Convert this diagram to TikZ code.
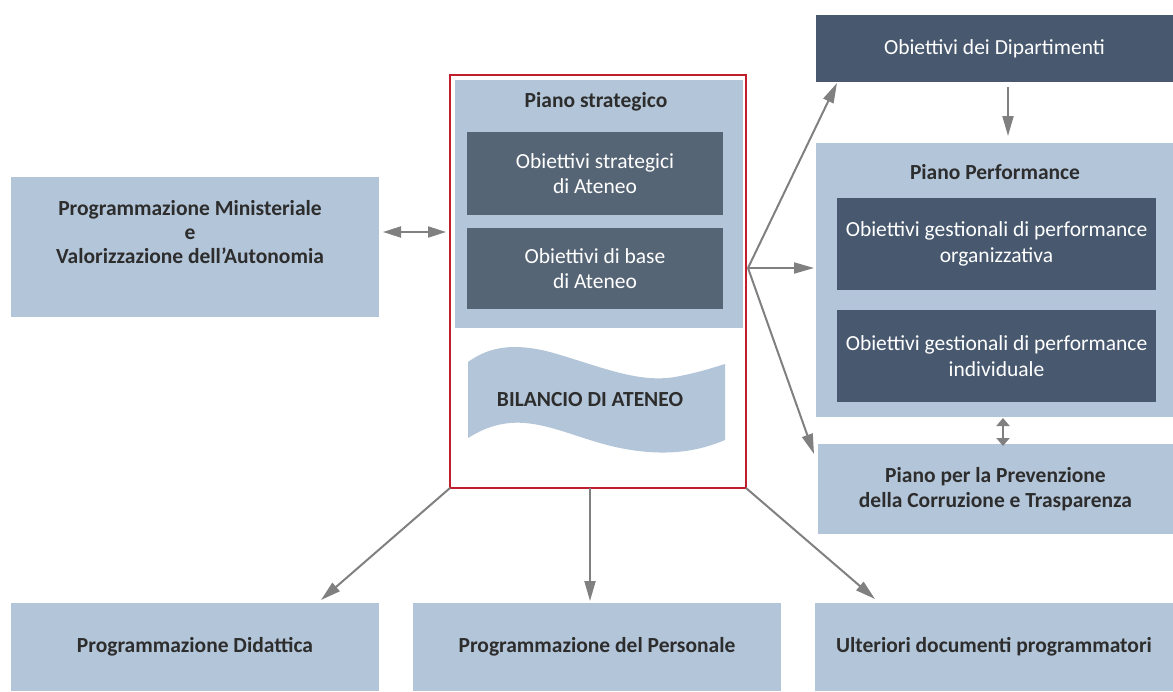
\documentclass[tikz,border=0pt]{standalone}
\usepackage{fontspec}
\setmainfont{Carlito}
\usetikzlibrary{arrows.meta, positioning, calc}
\definecolor{chiaro}{RGB}{179,197,216}
\definecolor{scuro}{RGB}{86,101,117}
\definecolor{scurodx}{RGB}{72,89,111}
\definecolor{testo}{RGB}{45,45,45}
\definecolor{freccia}{RGB}{128,128,128}
\definecolor{cornice}{RGB}{192,30,45}

\begin{document}
\begin{tikzpicture}[x=1pt, y=-1pt,
    box/.style={anchor=north west, inner sep=0pt, outer sep=0pt},
    chiarobox/.style={box, fill=chiaro, text=testo, align=center, font=\fontsize{21.5}{24.5}\selectfont\bfseries},
    scurobox/.style={box, fill=scuro, text=white, align=center, font=\fontsize{21.5}{25.5}\selectfont},
    titolo/.style={text=testo, align=center, inner sep=0pt, font=\fontsize{21.5}{24}\selectfont\bfseries},
    frec/.style={freccia, line width=2pt, -{Triangle[length=20pt, width=11pt]}},
    dfrec/.style={freccia, line width=2pt, {Triangle[length=18pt, width=11pt]}-{Triangle[length=18pt, width=11pt]}},
    pfrec/.style={freccia, line width=2pt, {Triangle[length=8pt, width=13pt]}-{Triangle[length=8pt, width=13pt]}}]
    \useasboundingbox (0,0) rectangle (1173,691);
    % Programmazione ministeriale
    \node[chiarobox, minimum width=368pt, minimum height=140pt] (minist) at (11,177) {};
    \node[titolo] (ministtxt) at (190,232) {Programmazione Ministeriale\\e\\Valorizzazione dell'Autonomia};
    % Piano strategico
    \node[box, draw=cornice, line width=1.2pt, minimum width=296pt, minimum height=413pt] (frame) at (450,75) {};
    \node[chiarobox, minimum width=288pt, minimum height=248pt] (strat) at (455,80) {};
    \node[titolo] (strattit) at (596,102) {Piano strategico};
    \node[scurobox, minimum width=256pt, minimum height=83pt] (ostrat) at (467,132) {Obiettivi strategici\\di Ateneo};
    \node[scurobox, minimum width=256pt, minimum height=81pt] (obase) at (467,228) {Obiettivi di base\\di Ateneo};
    % Bilancio (onda)
    \fill[chiaro] (468,362) .. controls (490,346) and (515,343) .. (550,352)
        .. controls (600,366) and (640,385) .. (680,376)
        .. controls (700,372) and (712,368) .. (725,364) -- (725,440)
        .. controls (690,455) and (655,455) .. (620,448)
        .. controls (580,440) and (545,420) .. (510,423)
        .. controls (490,425) and (478,432) .. (468,438) -- cycle;
    \node[titolo] (bilancio) at (590,400) {BILANCIO DI ATENEO};
    % Colonna destra
    \node[box, fill=scurodx, text=white, font=\fontsize{21.5}{25.5}\selectfont, minimum width=357pt, minimum height=67pt] (dip) at (816,15) {Obiettivi dei Dipartimenti};
    \node[chiarobox, minimum width=357pt, minimum height=274pt] (perf) at (816,143) {};
    \node[titolo] (perftit) at (995,172) {Piano Performance};
    \node[scurobox, fill=scurodx, minimum width=319pt, minimum height=92pt] (porg) at (837,198) {Obiettivi gestionali di performance\\organizzativa};
    \node[scurobox, fill=scurodx, minimum width=319pt, minimum height=92pt] (pind) at (837,310) {Obiettivi gestionali di performance\\individuale};
    \node[chiarobox, minimum width=355pt, minimum height=90pt] (prev) at (818,444) {Piano per la Prevenzione\\della Corruzione e Trasparenza};
    % Programmazioni in basso
    \foreach \n/\x/\w/\t in {didattica/11/368/{Programmazione Didattica},
                             personale/413/368/{Programmazione del Personale},
                             ulteriori/815/358/{Ulteriori documenti programmatori}} {
        \node[chiarobox, minimum width=\w pt, minimum height=88pt] (\n) at (\x,603) {\t};
    }
    % Frecce
    \coordinate (mm) at ([yshift=15pt]minist.east);
    \draw[dfrec] ([xshift=4pt]mm) -- ([xshift=-4pt]mm -| frame.west);
    \coordinate (fan) at ([xshift=2pt, yshift=13.5pt]frame.east);
    \draw[frec] (fan) -- ([xshift=21pt, yshift=-1pt]dip.south west);
    \draw[frec] (fan) -- ([xshift=-2pt]fan -| perf.west);
    \draw[frec] (fan) -- ([xshift=-4pt, yshift=-10pt]prev.north west);
    \coordinate (dd) at ([xshift=13.5pt]dip.south);
    \draw[frec] ([yshift=-5pt]dd) -- ([yshift=7pt]dd |- perf.north);
    \coordinate (pp) at ([xshift=8.5pt]perf.south);
    \draw[pfrec] ([yshift=-1pt]pp) -- ([yshift=-2pt]pp |- prev.north);
    \draw[frec] (frame.south west) -- ([xshift=-58pt, yshift=3pt]didattica.north east);
    \draw[frec] ([xshift=-8pt]frame.south) -- ([xshift=-8pt, yshift=2pt]frame.south |- personale.north);
    \draw[frec] (frame.south east) -- ([xshift=60pt, yshift=4pt]ulteriori.north west);
\end{tikzpicture}
\end{document}
